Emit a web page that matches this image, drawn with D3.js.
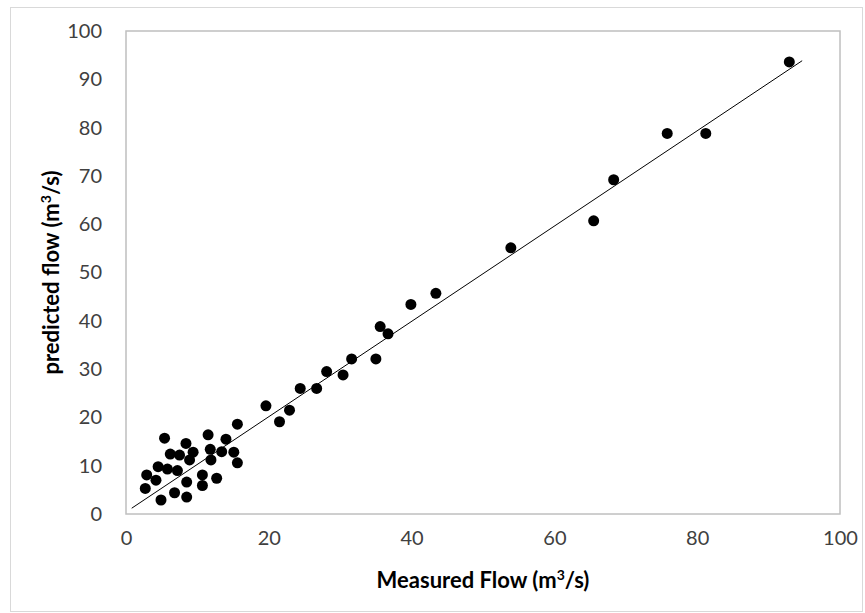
<!DOCTYPE html>
<html>
<head>
<meta charset="utf-8">
<script src="https://cdn.jsdelivr.net/npm/d3@7"></script>
<style>
  body { margin: 0; background: #fff; }
  .tick text { font-family: Lato, "Open Sans", sans-serif; font-size: 20px; fill: #404040; }
  .axis-title { font-family: Lato, "Open Sans", sans-serif; font-size: 22px; font-weight: bold; fill: #000; }
</style>
</head>
<body>
<div id="chart"></div>
<script>
// values
var measured = [92.9, 81.2, 75.8, 68.3, 65.5, 53.9, 43.4, 39.9, 35.6, 36.7, 35.0, 31.6, 28.1, 30.4,
    24.4, 26.7, 19.6, 22.9, 21.5, 15.6, 5.4, 11.5, 8.4, 14.0, 6.2, 7.5, 9.4, 8.9, 11.8, 13.4,
    15.1, 11.9, 15.6, 4.5, 5.8, 7.2, 2.9, 4.2, 10.7, 12.7, 8.5, 10.7, 2.7, 6.8, 8.5, 4.9];
var predicted = [93.6, 78.8, 78.8, 69.2, 60.7, 55.1, 45.7, 43.4, 38.8, 37.3, 32.1, 32.1, 29.5, 28.8,
    26.0, 26.0, 22.4, 21.5, 19.1, 18.6, 15.7, 16.4, 14.6, 15.5, 12.4, 12.2, 12.8, 11.2, 13.4, 12.9,
    12.8, 11.2, 10.6, 9.8, 9.3, 9.0, 8.1, 7.0, 8.1, 7.4, 6.6, 5.9, 5.3, 4.4, 3.5, 2.9];

// trend line end points
var fitX = [0.8, 94.7];
var fitY = [1.2, 93.85];

var xTicks = [0, 20, 40, 60, 80, 100];
var yTicks = [0, 10, 20, 30, 40, 50, 60, 70, 80, 90, 100];

var svgWidth = 865;
var svgHeight = 613;
var margin = { top: 31, right: 25, bottom: 99, left: 126 };
var width = svgWidth - margin.left - margin.right;
var height = svgHeight - margin.top - margin.bottom;

var svg = d3.select("#chart")
    .append("svg")
    .attr("width", svgWidth)
    .attr("height", svgHeight);

// outer chart border
svg.append("rect")
    .attr("x", 10.5)
    .attr("y", 7.5)
    .attr("width", 852)
    .attr("height", 604)
    .attr("fill", "none")
    .attr("stroke", "#d9d9d9");

var chartGroup = svg.append("g")
    .attr("transform", `translate(${margin.left}, ${margin.top})`);

var x = d3.scaleLinear().domain([0, 100]).range([0, width]);
var y = d3.scaleLinear().domain([0, 100]).range([height, 0]);

// plot area frame
chartGroup.append("rect")
    .attr("x", 0)
    .attr("y", 0)
    .attr("width", width)
    .attr("height", height)
    .attr("fill", "none")
    .attr("stroke", "#bfbfbf")
    .attr("stroke-width", 1.5);

var xAxis = chartGroup.append("g")
    .attr("transform", `translate(0, ${height})`)
    .call(d3.axisBottom(x).tickValues(xTicks).tickSize(0).tickPadding(17));
xAxis.select(".domain").remove();

var yAxis = chartGroup.append("g")
    .call(d3.axisLeft(y).tickValues(yTicks).tickSize(0).tickPadding(24));
yAxis.select(".domain").remove();

// trend line
var line = d3.line()
    .x(d => x(d[0]))
    .y(d => y(d[1]));

chartGroup.append("path")
    .datum(d3.zip(fitX, fitY))
    .attr("d", line)
    .attr("fill", "none")
    .attr("stroke", "#000")
    .attr("stroke-width", 1);

// points
chartGroup.selectAll("circle")
    .data(d3.zip(measured, predicted))
    .enter()
    .append("circle")
    .attr("cx", d => x(d[0]))
    .attr("cy", d => y(d[1]))
    .attr("r", 5.5)
    .attr("fill", "#000");

// axis titles
var xTitle = chartGroup.append("text")
    .attr("class", "axis-title")
    .attr("x", width / 2)
    .attr("y", 557)
    .attr("text-anchor", "middle");
xTitle.append("tspan").text("Measured Flow (m");
xTitle.append("tspan").attr("dy", -8).attr("font-size", "14px").text("3");
xTitle.append("tspan").attr("dy", 8).text("/s)");

var yTitle = chartGroup.append("text")
    .attr("class", "axis-title")
    .attr("transform", `translate(${59 - margin.left}, ${height / 2}) rotate(-90)`)
    .attr("text-anchor", "middle");
yTitle.append("tspan").text("predicted flow (m");
yTitle.append("tspan").attr("dy", -8).attr("font-size", "14px").text("3");
yTitle.append("tspan").attr("dy", 8).text("/s)");
</script>
</body>
</html>
